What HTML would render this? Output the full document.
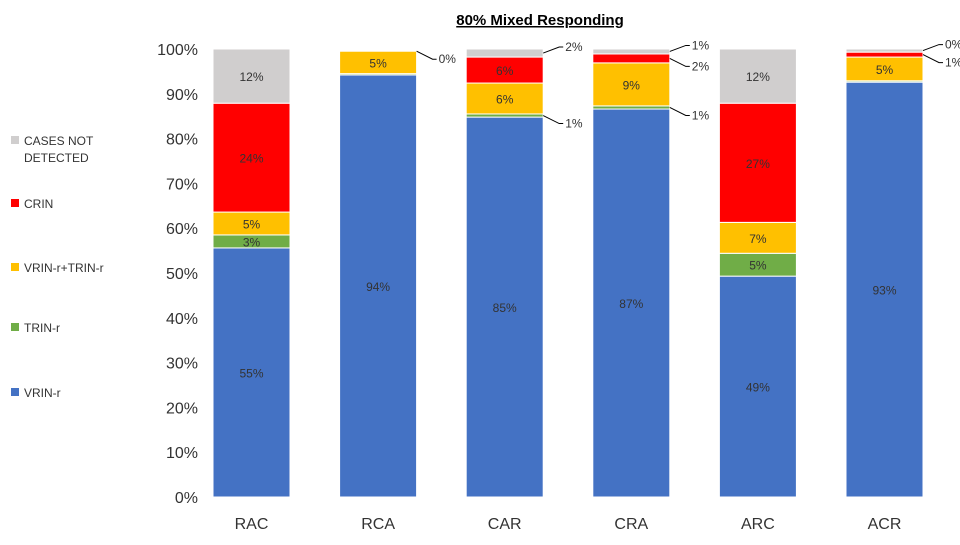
<!DOCTYPE html>
<html><head><meta charset="utf-8"><style>
body{margin:0;background:#fff;font-family:"Liberation Sans",sans-serif}
svg text{font-family:"Liberation Sans",sans-serif}
</style></head><body>
<svg id="c" width="960" height="540"></svg>
<script>
const categories=["RAC","RCA","CAR","CRA","ARC","ACR"];
const vrin=[55.6,94.2,84.8,86.6,49.3,92.6];
const trin=[2.9,0.3,0.7,0.7,5.1,0.3];
const vrinTrin=[5.1,5.0,6.9,9.6,6.9,5.3];
const crin=[24.3,0,5.8,2.0,26.6,1.1];
const notDetected=[12.1,0,1.8,1.1,12.1,0.7];
const vrinLabels=["55%","94%","85%","87%","49%","93%"];
const trinLabels=["3%","","1%","1%","5%",""];
const vrinTrinLabels=["5%","5%","6%","9%","7%","5%"];
const crinLabels=["24%","0%","6%","2%","27%","1%"];
const ndLabels=["12%","","2%","1%","12%","0%"];
const yTicks=[0,10,20,30,40,50,60,70,80,90,100];

const NS="http://www.w3.org/2000/svg",svg=document.getElementById('c');
function el(t,a,txt){const e=document.createElementNS(NS,t);for(const k in a)e.setAttribute(k,a[k]);if(txt!==undefined)e.textContent=txt;svg.appendChild(e);return e;}
const y0=497,y1=49;
const yS=v=>y0-(y0-y1)*v/100;
const bw=77,x0=213,step=126.6;
const xS=i=>x0+i*step;

let t=el('text',{x:540,y:25,'text-anchor':'middle','font-size':15,'font-weight':'bold','text-decoration':'underline'},'80% Mixed Responding');


yTicks.forEach(v=>{
 const e=el('text',{x:198,y:yS(v)+6,'text-anchor':'end','font-size':16,fill:'#333'},v+'%');
 
 
});
const series=[
 {name:'vrin-r',vals:vrin,labs:vrinLabels,col:'#4472C4'},
 {name:'trin-r',vals:trin,labs:trinLabels,col:'#70AD47'},
 {name:'vrin-trin',vals:vrinTrin,labs:vrinTrinLabels,col:'#FFC000'},
 {name:'crin',vals:crin,labs:crinLabels,col:'#FF0000'},
 {name:'cases-not-detected',vals:notDetected,labs:ndLabels,col:'#D0CECE'}];
categories.forEach((c,i)=>{
 let cum=0;
 series.forEach((s,si)=>{
  const v=s.vals[i];const top=yS(cum+v),bot=yS(cum);
  if(v>0){
   const r=el('rect',{x:xS(i),y:top,width:bw,height:bot-top,fill:s.col,stroke:'#fff','stroke-width':1});
   
   
  }
  const lab=s.labs[i];
  if(lab){
   const mid=(top+bot)/2;
   let e;
   if(v>=2.5){
    e=el('text',{x:xS(i)+bw/2,y:mid+5,'text-anchor':'middle','font-size':12,fill:'#333'},lab);
   }else{
    const lx=xS(i)+bw+22,ly=mid+(si%2?8:-6);
    el('polyline',{points:(xS(i)+bw)+','+mid+' '+(lx-6)+','+ly+' '+(lx-2)+','+ly,fill:'none',stroke:'#000','stroke-width':1});
    e=el('text',{x:lx,y:ly+4,'font-size':12,fill:'#333'},lab);
   }
   
   
  }
  cum+=v;
 });
 const xl=el('text',{x:xS(i)+bw/2,y:529,'text-anchor':'middle','font-size':16,fill:'#333'},c);
 
 
});
const legend=[['#D0CECE',['CASES NOT','DETECTED'],140],['#FF0000',['CRIN'],203],['#FFC000',['VRIN-r+TRIN-r'],267],['#70AD47',['TRIN-r'],327],['#4472C4',['VRIN-r'],392]];
legend.forEach(l=>{
 const r=el('rect',{x:11,y:l[2]-4,width:8,height:8,fill:l[0]});
 
 
 l[1].forEach((s,k)=>{
  const e=el('text',{x:24,y:l[2]+5+k*17,'font-size':12,fill:'#333'},s);
  
  
 });
});
</script>
</body></html>
